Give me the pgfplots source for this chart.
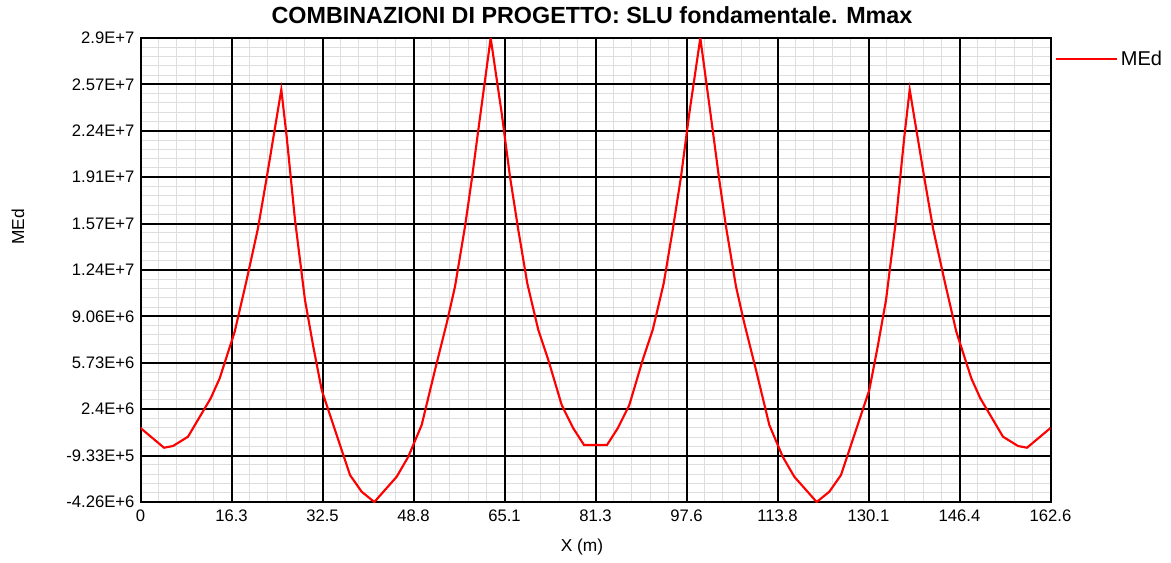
\documentclass[border=0pt]{standalone}
\usepackage{pgfplots}
\pgfplotsset{compat=1.18}
\usepackage{fontspec}
\setmainfont{Liberation Sans}

% bending moment envelope MEd along the beam axis X (m)
\pgfplotstableread{
x       MEd
0       1.045e6
4.20    -0.368e6
5.81    -0.246e6
8.49    0.421e6
12.54   3.173e6
14.15   4.607e6
16.83   7.947e6
18.90   11.531e6
20.99   15.359e6
22.48   18.821e6
25.16   25.30e6
26.12   21.925e6
27.61   15.954e6
29.39   10.220e6
30.88   6.872e6
32.38   3.768e6
33.56   2.335e6
37.43   -2.325e6
39.52   -3.522e6
41.78   -4.260e6
45.78   -2.446e6
47.85   -1.013e6
50.24   1.259e6
52.62   5.202e6
54.71   8.549e6
56.19   11.173e6
57.98   15.474e6
59.18   18.821e6
60.36   22.405e6
62.57   29.00e6
64.54   23.602e6
66.02   19.058e6
67.51   15.237e6
69.11   11.417e6
71.08   8.069e6
72.87   5.919e6
75.26   2.693e6
77.33   1.023e6
79.25   -0.174e6
83.35   -0.174e6
85.27   1.023e6
87.34   2.693e6
89.73   5.919e6
91.52   8.069e6
93.49   11.417e6
95.09   15.237e6
96.58   19.058e6
98.06   23.602e6
100.03  29.00e6
102.24  22.405e6
103.42  18.821e6
104.62  15.474e6
106.41  11.173e6
107.89  8.549e6
109.98  5.202e6
112.36  1.259e6
114.75  -1.013e6
116.82  -2.446e6
120.82  -4.260e6
123.08  -3.522e6
125.17  -2.325e6
129.04  2.335e6
130.22  3.768e6
131.72  6.872e6
133.21  10.220e6
134.99  15.954e6
136.48  21.925e6
137.44  25.30e6
140.12  18.821e6
141.61  15.359e6
143.70  11.531e6
145.77  7.947e6
148.45  4.607e6
150.06  3.173e6
154.11  0.421e6
156.79  -0.246e6
158.40  -0.368e6
162.6   1.045e6
}\momenti

\def\xmaj{0,16.26,32.52,48.78,65.04,81.3,97.56,113.82,130.08,146.34,162.6}
\def\ymaj{-4.26e6,-0.934e6,2.392e6,5.718e6,9.044e6,12.37e6,15.696e6,19.022e6,22.348e6,25.674e6,29e6}

\begin{document}
\begin{tikzpicture}[font=\fontsize{12.5pt}{15pt}\selectfont]
\path[use as bounding box] (0,0) rectangle (878.25pt,-421.5pt);
\begin{axis}[
  at={(105.375pt,-376.5pt)}, anchor=south west,
  scale only axis, width=682.5pt, height=348pt,
  xmin=0, xmax=162.6, ymin=-4.26e6, ymax=2.9e7,
  xtick=\xmaj,
  xticklabels={0,16.3,32.5,48.8,65.1,81.3,97.6,113.8,130.1,146.4,162.6},
  ytick=\ymaj,
  yticklabels={-4.26E+6,-9.33E+5,2.4E+6,5.73E+6,9.06E+6,1.24E+7,1.57E+7,1.91E+7,2.24E+7,2.57E+7,2.9E+7},
  scaled y ticks=false,
  minor x tick num=4, minor y tick num=4,
  grid=minor,
  minor grid style={gray!26, line width=0.75pt},
  % black major grid drawn after the light minor grid
  extra x ticks=\xmaj, extra y ticks=\ymaj,
  extra x tick labels={}, extra y tick labels={},
  extra tick style={grid=major, major grid style={black, line width=1.5pt}},
  axis line style={black, line width=1.5pt},
  major tick length=0pt, minor tick length=0pt,
  xticklabel style={yshift=-2pt},
  yticklabel style={xshift=-1pt},
  legend style={at={(1.0,0.9547)}, anchor=west, xshift=3pt, draw=none, fill=none,
    inner sep=0pt, font=\fontsize{15pt}{17pt}\selectfont},
  legend image code/.code={\draw[#1] (0pt,0pt) -- (46pt,0pt);},
  legend cell align=left,
]
\addplot[red, line width=1.6pt] table[x=x, y=MEd] {\momenti};
\addlegendentry{MEd}
\end{axis}
\node[font=\bfseries\fontsize{17.5pt}{20pt}\selectfont] at (444pt,-11.5pt) {COMBINAZIONI DI PROGETTO: SLU fondamentale. Mmax};
\node[font=\fontsize{13pt}{15pt}\selectfont] at (436.5pt,-410pt) {X (m)};
\node[rotate=90, font=\fontsize{13pt}{15pt}\selectfont] at (13.5pt,-170pt) {MEd};
\end{tikzpicture}
\end{document}
